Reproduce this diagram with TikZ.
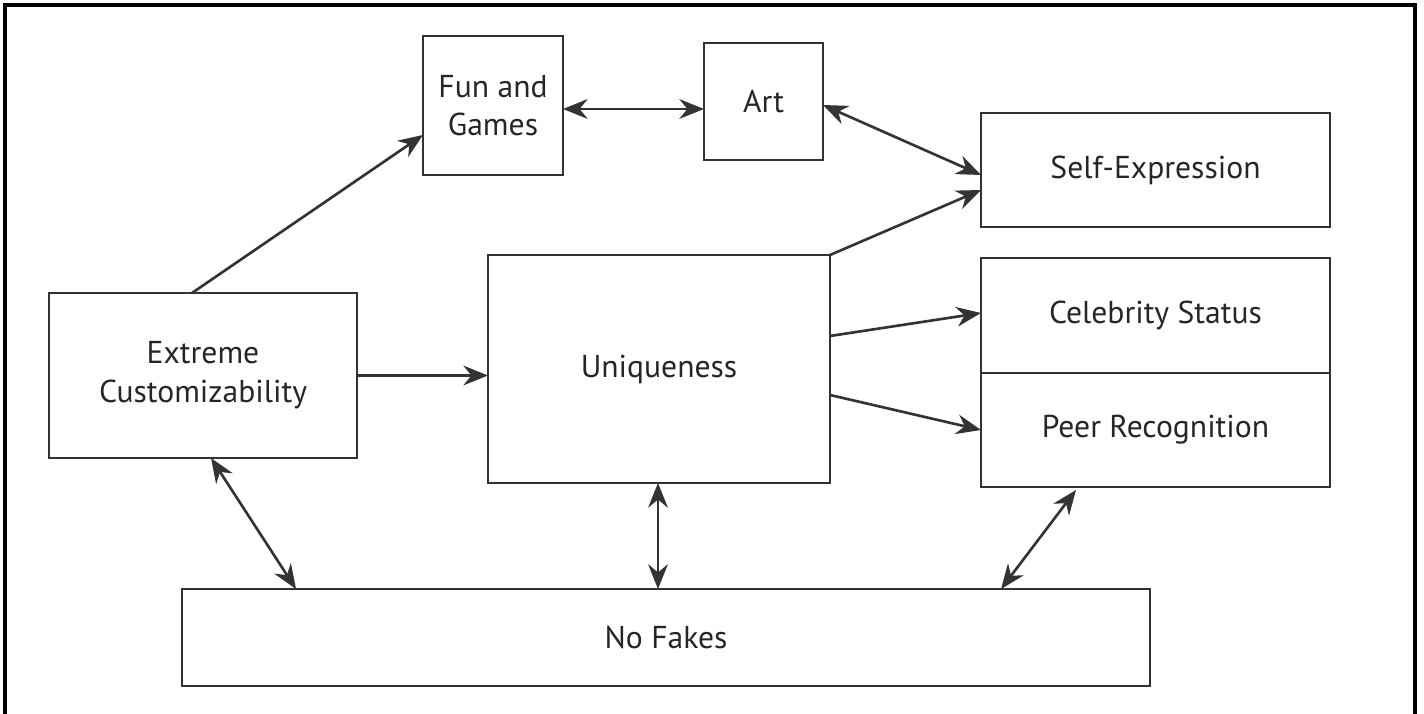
\documentclass[tikz,border=0pt]{standalone}
\usepackage{fontspec}
\setmainfont{PT Sans}
\usetikzlibrary{arrows.meta}

\tikzset{
  blk/.style={draw=black!80, line width=0.7pt, anchor=north west, align=center,
    inner sep=2pt, outer sep=0pt, text=black!85, font=\fontsize{9}{11}\selectfont},
  link/.style={draw=black!80, line width=0.75pt, -{Stealth[length=7pt,width=5.6pt]}},
  twoway/.style={link, {Stealth[length=7pt,width=5.6pt]}-{Stealth[length=7pt,width=5.6pt]}},
}

\begin{document}
\begin{tikzpicture}
  \useasboundingbox (0,0) rectangle (14.24,-7.14);

  % ---------- frame ----------
  \draw[line width=0.9pt] (0.05,-7.14) -- (0.05,-0.05) -- (14.15,-0.05) -- (14.15,-7.14);

  % ---------- boxes ----------
  \node[blk, minimum width=1.40cm, minimum height=1.39cm] (fun) at (4.23,-0.36) {Fun and\\Games};
  \node[blk, minimum width=1.19cm, minimum height=1.17cm] (art) at (7.04,-0.43) {Art};
  \node[blk, minimum width=3.49cm, minimum height=1.14cm] (self) at (9.81,-1.13) {Self-Expression};
  \node[blk, minimum width=3.49cm, minimum height=1.15cm] (celeb) at (9.81,-2.58) {Celebrity Status};
  \node[blk, minimum width=3.49cm, minimum height=1.14cm] (peer) at (9.81,-3.73) {Peer Recognition};
  \node[blk, minimum width=3.08cm, minimum height=1.65cm] (ext) at (0.49,-2.93) {Extreme\\Customizability};
  \node[blk, minimum width=3.42cm, minimum height=2.28cm] (uniq) at (4.88,-2.55) {Uniqueness};
  \node[blk, minimum width=9.68cm, minimum height=0.97cm] (nofake) at (1.82,-5.89) {No Fakes};

  % ---------- top row ----------
  \draw[link] ([xshift=1.43cm]ext.north west) -- ([yshift=-0.99cm]fun.north west);
  \draw[twoway] ([yshift=-0.73cm]fun.north east) -- ([yshift=-0.66cm]art.north west);
  \draw[twoway] ([yshift=-0.62cm]art.north east) -- ([yshift=-0.62cm]self.north west);

  % ---------- out of uniqueness ----------
  \draw[link] (ext.east) -- (ext.east -| uniq.west);
  \draw[link] (uniq.north east) -- ([yshift=-0.77cm]self.north west);
  \draw[link] ([yshift=-0.81cm]uniq.north east) -- ([yshift=-0.55cm]celeb.north west);
  \draw[link] ([yshift=-1.40cm]uniq.north east) -- ([yshift=-0.57cm]peer.north west);

  % ---------- no fakes ----------
  \coordinate (ucut) at ([xshift=1.70cm]uniq.south west);
  \draw[twoway] ([xshift=1.62cm]ext.south west) -- ([xshift=1.14cm]nofake.north west);
  \draw[twoway] (ucut) -- (ucut |- nofake.north);
  \draw[twoway] ([xshift=0.95cm,yshift=-0.03cm]peer.south west) -- ([xshift=8.19cm]nofake.north west);

\end{tikzpicture}
\end{document}
